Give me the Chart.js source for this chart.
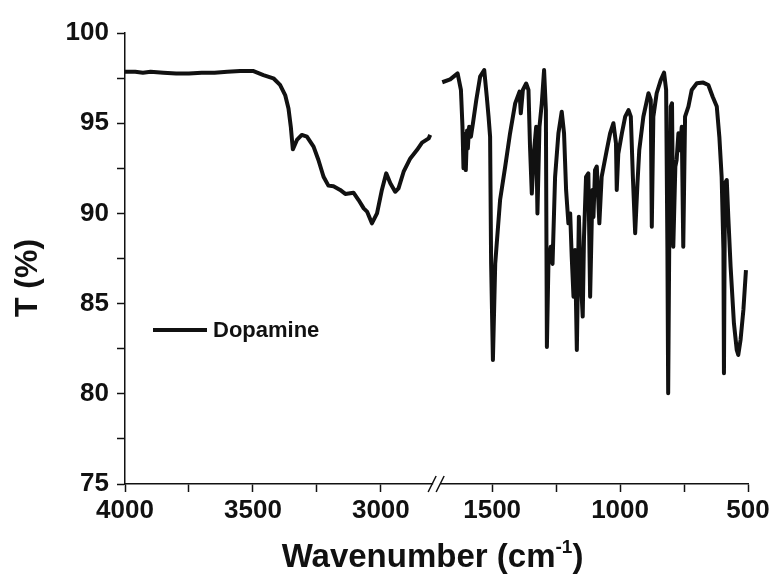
<!DOCTYPE html>
<html>
<head>
<meta charset="utf-8">
<script src="https://cdn.jsdelivr.net/npm/chart.js@4/dist/chart.umd.min.js"></script>
<style>
  body { margin: 0; background: #fff; }
  canvas { display: block; }
</style>
</head>
<body>
<canvas id="ftir" width="775" height="576"></canvas>
<script>
// high wavenumber part (left of the axis break)
const leftWavenumber = [4000, 3960, 3930, 3900, 3850, 3800, 3750, 3700, 3650, 3600, 3550, 3500, 3459, 3420, 3394, 3374, 3361, 3352, 3344, 3328, 3309, 3289, 3263, 3244, 3224, 3205, 3185, 3159, 3139, 3107, 3087, 3067, 3054, 3035, 3015, 2996, 2979, 2963, 2944, 2931, 2911, 2885, 2859, 2839, 2813, 2807];
const leftTransmittance = [97.85, 97.85, 97.8, 97.85, 97.8, 97.75, 97.75, 97.8, 97.8, 97.85, 97.9, 97.9, 97.67, 97.49, 97.12, 96.56, 95.82, 94.81, 93.55, 94.07, 94.35, 94.25, 93.7, 92.96, 92.03, 91.54, 91.5, 91.3, 91.08, 91.15, 90.74, 90.28, 90.1, 89.45, 90.0, 91.3, 92.22, 91.67, 91.2, 91.39, 92.31, 93.05, 93.51, 93.92, 94.16, 94.35];

// fingerprint part (right of the axis break)
const rightWavenumber = [1695, 1664, 1635, 1622, 1616, 1612, 1607, 1603, 1598, 1595, 1590, 1583, 1575, 1562, 1547, 1531, 1521, 1514, 1508, 1504, 1497, 1488, 1482, 1469, 1449, 1430, 1410, 1393, 1388, 1380, 1367, 1358, 1352, 1345, 1336, 1328, 1323, 1315, 1306, 1297, 1290, 1286, 1280, 1271, 1264, 1254, 1241, 1228, 1219, 1211, 1202, 1195, 1189, 1182, 1176, 1169, 1161, 1154, 1146, 1141, 1133, 1124, 1117, 1108, 1104, 1098, 1091, 1081, 1072, 1052, 1039, 1026, 1016, 1013, 1007, 993, 980, 967, 958, 950, 941, 932, 925, 909, 889, 880, 876, 870, 857, 841, 828, 820, 815, 812, 808, 802, 797, 792, 784, 779, 772, 766, 759, 753, 746, 733, 720, 700, 675, 655, 638, 622, 612, 603, 596, 594, 590, 583, 577, 568, 555, 544, 538, 529, 518, 508];
const rightTransmittance = [97.27, 97.43, 97.76, 96.84, 94.81, 92.5, 94.4, 92.4, 94.6, 93.6, 94.8, 94.25, 95.0, 96.29, 97.58, 97.95, 96.47, 95.36, 94.25, 87.23, 81.87, 87.2, 88.34, 90.74, 92.59, 94.44, 96.1, 96.75, 95.55, 96.84, 97.2, 96.84, 93.7, 91.1, 93.5, 94.8, 90.0, 94.8, 96.1, 97.95, 95.73, 82.6, 87.23, 88.15, 87.2, 92.03, 94.44, 95.64, 94.44, 91.3, 89.45, 90.0, 87.6, 85.38, 87.97, 82.43, 89.82, 86.5, 84.28, 88.7, 92.03, 92.22, 85.38, 91.3, 89.8, 92.4, 92.6, 89.45, 92.03, 93.51, 94.44, 95.0, 93.89, 91.3, 93.3, 94.44, 95.36, 95.73, 95.36, 92.03, 88.9, 91.67, 93.51, 95.36, 96.66, 96.29, 89.26, 95.36, 96.66, 97.39, 97.8, 96.84, 87.97, 80.03, 88.0, 95.92, 96.1, 88.15, 92.59, 92.96, 94.44, 93.5, 94.8, 88.15, 95.36, 95.92, 96.84, 97.21, 97.25, 97.12, 96.47, 95.92, 94.25, 92.03, 87.97, 81.14, 91.67, 91.85, 89.8, 87.05, 83.91, 82.43, 82.15, 83.0, 84.65, 86.86];

// tick marks on the broken x axis, and which of them carry a label
const xTicks = [4000, 3750, 3500, 3250, 3000, 1500, 1250, 1000, 750, 500];
const xTickLabels = [4000, 3500, 3000, 1500, 1000, 500];
const yTickLabels = [75, 80, 85, 90, 95, 100];
const seriesName = 'Dopamine';

const FONT = '"Liberation Sans", Arial, sans-serif';
const INK = '#111';

const toPoints = (xs, ys) => xs.map((x, i) => ({ x: x, y: ys[i] }));

Chart.defaults.font.family = FONT;
Chart.defaults.color = INK;

const xAxis = (min, max) => ({
    type: 'linear',
    position: 'bottom',
    stack: 'wavenumber',
    stackWeight: max - min,
    min: min,
    max: max,
    reverse: true,
    border: { color: INK, width: 1.5 },
    grid: { drawOnChartArea: false, tickLength: 8, tickColor: INK, tickWidth: 1.5 },
    ticks: {
        maxRotation: 0,
        autoSkip: false,
        padding: 3,
        font: { size: 26, weight: 'bold' },
        callback: v => xTickLabels.includes(v) ? v : ''
    },
    afterBuildTicks: scale => {
        scale.ticks = xTicks.filter(v => v >= min && v <= max).map(v => ({ value: v }));
    },
    afterFit: scale => { scale.height = 92; }
});

// axis break, legend and axis titles
const decorations = {
    id: 'decorations',
    afterDraw(chart) {
        const ctx = chart.ctx;
        const area = chart.chartArea;
        const bx = chart.scales.xLeft.right;
        const by = area.bottom;
        ctx.save();

        ctx.fillStyle = '#fff';
        ctx.fillRect(bx - 4, by - 3, 7, 6);
        ctx.strokeStyle = INK;
        ctx.lineWidth = 1.5;
        ctx.beginPath();
        ctx.moveTo(bx - 9, by + 8); ctx.lineTo(bx - 1, by - 8);
        ctx.moveTo(bx - 1, by + 8); ctx.lineTo(bx + 7, by - 8);
        ctx.stroke();

        const lx = area.left + 28, ly = area.top + 297;
        ctx.lineWidth = 4;
        ctx.beginPath();
        ctx.moveTo(lx, ly); ctx.lineTo(lx + 54, ly);
        ctx.stroke();
        ctx.fillStyle = INK;
        ctx.font = 'bold 22px ' + FONT;
        ctx.textBaseline = 'middle';
        ctx.textAlign = 'left';
        ctx.fillText(seriesName, lx + 60, ly + 1);

        ctx.font = 'bold 32px ' + FONT;
        ctx.textAlign = 'center';
        ctx.translate(28, 278);
        ctx.rotate(-Math.PI / 2);
        ctx.fillText('T (%)', 0, 0);
        ctx.setTransform(1, 0, 0, 1, 0, 0);

        const big = 'bold 33px ' + FONT, small = 'bold 19px ' + FONT;
        const main = 'Wavenumber (cm', sup = '-1', tail = ')';
        ctx.font = big;
        const w1 = ctx.measureText(main).width, w3 = ctx.measureText(tail).width;
        ctx.font = small;
        const w2 = ctx.measureText(sup).width;
        let tx = (area.left + area.right) / 2 - 4 - (w1 + w2 + w3) / 2;
        const base = 567;
        ctx.textAlign = 'left';
        ctx.textBaseline = 'alphabetic';
        ctx.font = big;
        ctx.fillText(main, tx, base);
        tx += w1;
        ctx.font = small;
        ctx.fillText(sup, tx, base - 14);
        tx += w2;
        ctx.font = big;
        ctx.fillText(tail, tx, base);
        ctx.restore();
    }
};

const lineStyle = {
    borderColor: INK,
    borderWidth: 4,
    borderJoinStyle: 'round',
    pointRadius: 0,
    tension: 0,
    fill: false
};

new Chart(document.getElementById('ftir'), {
    type: 'line',
    data: {
        datasets: [
            Object.assign({ label: seriesName, data: toPoints(leftWavenumber, leftTransmittance), xAxisID: 'xLeft' }, lineStyle),
            Object.assign({ label: seriesName, data: toPoints(rightWavenumber, rightTransmittance), xAxisID: 'xRight' }, lineStyle)
        ]
    },
    options: {
        responsive: false,
        animation: false,
        layout: { padding: { left: 0, right: 27, top: 33, bottom: 0 } },
        plugins: { legend: { display: false }, tooltip: { enabled: false } },
        scales: {
            xLeft: xAxis(2780, 4000),
            xRight: xAxis(500, 1715),
            y: {
                type: 'linear',
                min: 75,
                max: 100,
                border: { color: INK, width: 1.5 },
                grid: { drawOnChartArea: false, tickLength: 8, tickColor: INK, tickWidth: 1.5 },
                ticks: {
                    stepSize: 2.5,
                    autoSkip: false,
                    padding: 8,
                    font: { size: 26, weight: 'bold' },
                    callback: v => yTickLabels.includes(v) ? v : ''
                },
                afterFit: scale => { scale.width = 125; }
            }
        }
    },
    plugins: [decorations]
});
</script>
</body>
</html>
